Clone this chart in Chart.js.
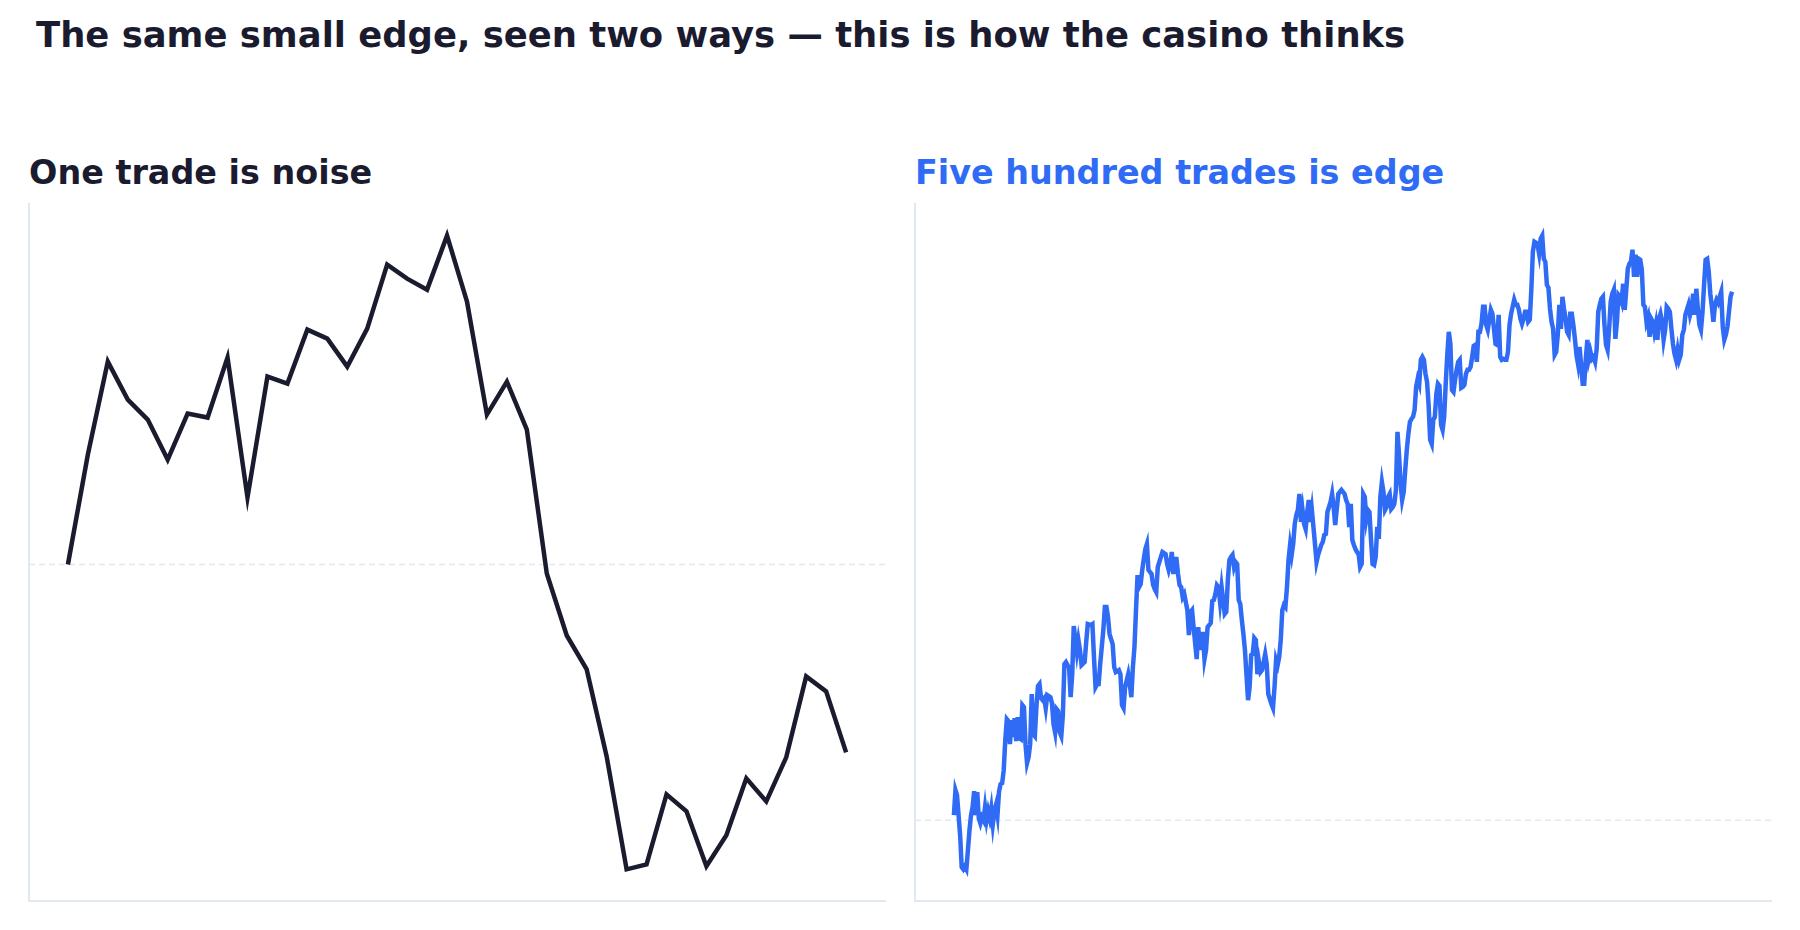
<!DOCTYPE html>
<html>
<head>
<meta charset="utf-8">
<script src="https://cdn.jsdelivr.net/npm/chart.js@4.4.1/dist/chart.umd.min.js"></script>
<style>
  html, body { margin: 0; padding: 0; background: #ffffff; }
  body { width: 1800px; height: 930px; position: relative; overflow: hidden; font-family: "DejaVu Sans", sans-serif; }
  .t { position: absolute; font-weight: bold; line-height: 1; white-space: nowrap; margin: 0; }
  #title { left: 36px; top: 17px; font-size: 35.4px; color: #1b1b2f; }
  #subL { left: 29px; top: 156px; font-size: 33.4px; color: #1b1b2f; }
  #subR { left: 915px; top: 156px; font-size: 33.4px; color: #2f6bf5; }
  canvas { position: absolute; }
  #cL { left: 0; top: 190px; }
  #cR { left: 900px; top: 190px; }
</style>
</head>
<body>
<div class="t" id="title">The same small edge, seen two ways — this is how the casino thinks</div>
<div class="t" id="subL">One trade is noise</div>
<div class="t" id="subR">Five hundred trades is edge</div>
<canvas id="cL" width="900" height="730"></canvas>
<canvas id="cR" width="900" height="730"></canvas>
<script>
// ---- data ----
const titles = ["One trade is noise", "Five hundred trades is edge"];
// one trade: running P&L at each step of a single trade
const oneTradePnl = [0, 1.10, 2.03, 1.65, 1.45, 1.05, 1.51, 1.47, 2.07, 0.67,
  1.88, 1.81, 2.35, 2.26, 1.98, 2.36, 3.00, 2.86, 2.75, 3.29,
  2.63, 1.50, 1.83, 1.35, -0.09, -0.71, -1.05, -1.92, -3.05, -3.00,
  -2.30, -2.47, -3.02, -2.71, -2.14, -2.37, -1.93, -1.12, -1.27, -1.88];
// five hundred trades: [trade number, cumulative P&L]
const manyTradesPnl = [[0,0.5],[1,3.0],[2,2.5],[3,0.5],[4,-1.5],[5,-4.7],[6,-4.9],[7,-4.6],[8,-4.9],[9,-3.0],[10,-1.0],[11,0.5],[12,1.3],[13,2.9],[14,0.5],[15,2.8],[16,0.2],[17,-0.3],[18,0.3],[19,0.0],[20,1.3],[21,0.0],[22,0.9],[23,0.2],[24,1.2],[25,-0.4],[26,0.9],[27,1.5],[28,0.5],[29,2.9],[30,3.6],[31,3.7],[32,5.0],[33,8.0],[34,10.1],[35,9.9],[36,7.6],[37,10.0],[38,8.3],[39,10.2],[40,7.9],[41,10.3],[42,8.2],[43,8.1],[44,11.5],[45,11.3],[46,7.6],[47,5.7],[48,6.3],[49,7.6],[50,12.6],[51,8.6],[52,8.4],[53,11.3],[54,13.4],[55,13.6],[56,12.2],[57,12.0],[58,12.2],[59,11.2],[60,12.5],[61,12.4],[62,12.3],[63,11.7],[64,9.6],[65,8.8],[66,11.1],[67,10.9],[68,8.8],[69,8.4],[70,10.5],[71,15.6],[72,15.8],[73,15.5],[74,15.3],[75,12.3],[76,14.5],[77,19.4],
[79,16.8],[80,18.0],[81,17.0],[82,15.5],[84,15.8],[85,17.8],[86,19.6],[88,19.5],[89,19.6],[90,16.3],[91,13.3],[92,13.6],[93,13.6],[94,15.6],[96,19.0],[97,21.3],[98,21.3],[99,20.3],[100,18.6],[102,17.6],[103,15.3],[104,14.8],[106,15.0],[107,14.6],[108,11.5],[109,11.2],[110,13.3],[112,14.6],[113,13.6],[114,12.3],[115,15.3],[116,17.3],[117,21.0],[118,24.5],[119,23.3],[120,23.6],[121,25.0],[122,26.1],[123,27.1],[124,27.6],[125,25.0],[127,24.6],[128,23.5],[129,23.1],[130,22.8],[131,25.3],[133,26.3],[134,26.8],[136,26.6],[137,25.6],[138,25.0],[139,25.6],[140,26.8],[141,24.6],[142,26.1],[143,26.1],[144,24.6],[145,23.5],[146,23.3],[147,22.3],[148,22.6],[150,21.0],[151,18.5],[152,20.8],[153,21.0],[154,19.3],[156,16.1],[157,19.3],[158,17.0],[159,18.6],[160,18.6],[161,16.1],[162,17.0],[163,19.3],[165,19.7],[166,21.9],[167,22.0],[168,22.6],[169,23.5],[170,23.3],[171,21.8],[172,23.3],[173,22.0],[174,20.6],[175,20.8],[176,24.0],[177,26.0],[178,26.3],[179,26.5],[180,25.3],[181,25.8],[182,25.6],[183,22.0],[184,21.6],[185,20.0],[186,18.6],[187,17.0],[188,14.5],[189,12.0],[190,13.3],[191,16.5],[192,16.6],[193,18.2],[194,18.0],[195,14.6],[196,15.8],[197,14.8],[198,15.0],[199,15.8],[200,16.6],[201,15.6],[202,12.6],[203,12.1],[204,11.6],[205,11.2],[206,13.3],[207,16.0],[208,15.5],[209,16.3],[210,18.0],[211,21.0],[212,21.5],[213,21.3],[214,23.3],[215,26.0],[216,27.5],[217,26.5],[218,27.6],[219,29.6],[220,30.5],[221,31.0],[222,32.6],[223,29.8],[224,31.0],[225,29.6],[226,29.1],[227,30.8],[228,32.0],[229,29.8],[230,31.0],[231,29.3],[232,27.6],[233,25.8],[234,26.5],[236,27.5],[237,27.8],[238,28.5],[239,28.6],[240,30.8],[241,31.3],[242,31.8],[243,32.6],[244,31.3],[245,29.5],[246,31.1],[247,32.6],[248,32.8],[249,33.0],[251,32.6],[252,32.0],[253,31.6],[254,29.3],[255,31.6],[256,28.0],[257,27.5],[258,27.1],[259,26.8],[260,26.6],[261,25.3],[262,25.6],[263,32.6],[264,32.3],[265,30.1],[266,31.0],[267,30.8],[268,28.0],[269,25.6],[270,25.5],[271,26.3],[272,29.3],[273,28.1],[274,32.3],[275,33.8],[276,32.8],[277,31.0],[278,31.3],[279,32.3],[280,32.6],[281,31.1],[282,31.3],[283,31.6],[284,33.0],[285,38.8],[286,36.5],[287,33.6],[288,32.0],[289,32.8],[290,35.0],[291,37.0],[292,38.6],[293,39.8],[294,40.1],[295,40.3],[296,41.0],[297,43.3],[298,44.1],[299,43.6],[300,46.0],[301,46.3],[302,46.0],[303,44.6],[304,43.8],[305,41.5],[306,38.0],[307,37.6],[308,40.0],[309,40.3],[310,42.6],[311,43.6],[312,43.4],[313,39.5],[314,39.0],[315,40.3],[316,43.6],[317,46.5],[318,48.8],[319,47.6],[320,43.0],[321,42.8],[322,44.0],[323,45.0],[324,45.8],[325,46.0],[326,43.2],[327,43.3],[328,43.5],[329,44.6],[330,45.0],[331,45.0],[332,45.3],[333,46.3],[334,47.4],[335,47.5],[336,45.8],[337,48.8],[338,48.8],[339,49.6],[340,51.3],[341,51.3],[342,49.5],[343,49.0],[344,50.0],[345,51.0],[346,50.6],[347,49.1],[348,47.6],[349,47.5],[350,50.5],[351,46.3],[352,46.0],[353,46.1],[354,46.0],[355,46.0],[356,46.8],[357,49.5],[358,50.6],[359,51.3],[360,52.0],[361,51.5],[362,51.5],[363,51.0],[364,50.1],[365,49.6],[366,50.1],[367,50.8],[368,50.8],[369,49.8],[370,50.0],[371,53.0],[372,56.8],[373,57.8],[374,57.7],[375,57.5],[376,56.6],[377,58.1],[378,58.4],[379,56.1],[380,55.8],[381,53.5],[382,53.2],[383,51.1],[384,49.8],[385,49.1],[386,46.5],[387,46.8],[388,48.5],[389,51.5],[390,49.1],[391,52.3],[392,51.1],[393,50.1],[394,48.8],[395,48.5],[396,50.6],[397,50.6],[398,49.5],[399,48.1],[400,46.5],[401,45.6],[402,47.3],[403,45.5],[404,43.6],[405,43.6],[406,46.1],[407,48.0],[408,46.1],[409,46.8],[410,46.1],[411,46.3],[412,45.8],[413,47.1],[414,50.8],[415,51.5],[416,52.1],[417,52.3],[418,49.5],[419,47.5],[420,47.0],[421,49.1],[422,51.8],[423,52.6],[424,53.0],[425,48.1],[426,49.8],[427,52.5],[428,52.3],[429,51.8],[430,53.6],[431,51.0],[432,53.0],[433,55.1],[434,55.6],[435,55.8],[436,57.0],[437,54.3],[438,56.5],[439,54.3],[440,56.1],[441,56.0],[442,55.0],[443,51.5],[444,51.3],[445,49.8],[446,50.3],[447,48.3],[448,50.1],[449,49.8],[450,48.8],[451,49.6],[452,48.0],[453,50.1],[454,50.6],[455,49.8],[456,48.0],[457,49.0],[458,51.3],[459,51.1],[460,50.8],[461,49.1],[462,47.6],[463,46.6],[464,46.0],[465,47.0],[466,46.0],[467,46.5],[468,48.5],[469,49.0],[470,50.5],[471,51.0],[472,51.5],[473,50.5],[474,51.1],[475,52.6],[476,50.5],[477,53.1],[478,51.1],[479,49.5],[480,49.0],[481,50.8],[482,53.5],[483,56.0],[484,56.1],[485,54.8],[486,52.6],[487,51.3],[488,49.8],[489,51.5],[490,52.0],[491,51.7],[492,52.3],[493,52.8],[494,49.3],[495,48.0],[496,48.5],[497,49.3],[498,50.8],[499,52.3],[500,52.8]];
// axis bounds
const leftX = [-1.95, 40.95];
const leftY = [-3.367, 3.607];
const rightX = [-25, 525];
const rightY = [-8.07, 61.57];
const colors = { dark: "#1b1b2f", blue: "#2f6bf5", axis: "#e2e8f0" };

// ---- zero line plugin ----
const zeroLine = {
  id: "zeroLine",
  beforeDatasetsDraw(chart) {
    const { ctx, chartArea, scales } = chart;
    const y = scales.y.getPixelForValue(0);
    ctx.save();
    ctx.strokeStyle = colors.axis;
    ctx.lineWidth = 1.5;
    ctx.setLineDash([6, 4]);
    ctx.beginPath();
    ctx.moveTo(chartArea.left, y);
    ctx.lineTo(chartArea.right, y);
    ctx.stroke();
    ctx.restore();
  }
};

function axisOpts(range) {
  return {
    type: "linear",
    min: range[0],
    max: range[1],
    ticks: { display: false },
    grid: { display: false, drawTicks: false },
    border: { display: true, color: colors.axis, width: 2 }
  };
}

function makeChart(id, points, color, xr, yr, padding) {
  return new Chart(document.getElementById(id), {
    type: "line",
    data: {
      datasets: [{
        data: points,
        borderColor: color,
        borderWidth: 4.5,
        pointRadius: 0,
        tension: 0,
        fill: false
      }]
    },
    options: {
      responsive: false,
      animation: false,
      devicePixelRatio: 1,
      layout: { padding: padding },
      plugins: { legend: { display: false }, tooltip: { enabled: false }, title: { display: false } },
      scales: { x: axisOpts(xr), y: axisOpts(yr) }
    },
    plugins: [zeroLine]
  });
}

makeChart("cL", oneTradePnl.map((v, i) => ({ x: i, y: v })), colors.dark, leftX, leftY,
  { left: 29, top: 14, right: 15, bottom: 19 });
makeChart("cR", manyTradesPnl.map(p => ({ x: p[0], y: p[1] })), colors.blue, rightX, rightY,
  { left: 15, top: 14, right: 29, bottom: 19 });
</script>
</body>
</html>
